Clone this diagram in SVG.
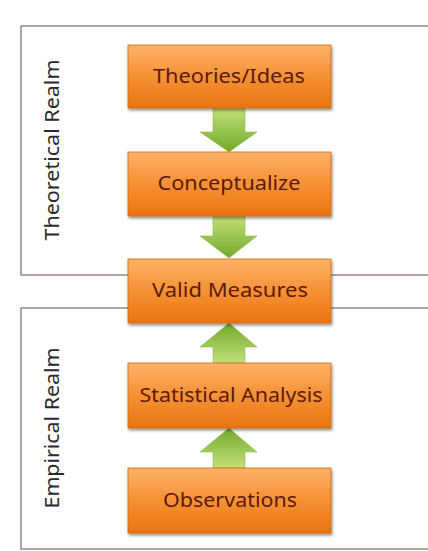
<svg xmlns="http://www.w3.org/2000/svg" width="428" height="551" viewBox="0 0 428 551">
  <defs>
    <linearGradient id="og" x1="0" y1="0" x2="0" y2="1">
      <stop offset="0" stop-color="#fbb26a"/>
      <stop offset="0.45" stop-color="#f79439"/>
      <stop offset="1" stop-color="#e8740f"/>
    </linearGradient>
    <linearGradient id="gg" x1="0" y1="0" x2="0" y2="1">
      <stop offset="0" stop-color="#c3e07a"/>
      <stop offset="1" stop-color="#72a82a"/>
    </linearGradient>
    <linearGradient id="ggu" x1="0" y1="1" x2="0" y2="0">
      <stop offset="0" stop-color="#c3e07a"/>
      <stop offset="1" stop-color="#72a82a"/>
    </linearGradient>
    <filter id="sh" x="-10%" y="-10%" width="120%" height="130%">
      <feGaussianBlur in="SourceAlpha" stdDeviation="1.5"/>
      <feOffset dx="1" dy="2" result="o"/>
      <feComponentTransfer><feFuncA type="linear" slope="0.45"/></feComponentTransfer>
      <feMerge><feMergeNode/><feMergeNode in="SourceGraphic"/></feMerge>
    </filter>
  </defs>
  <style>
    .realm { fill: #ffffff; stroke: #8a7474; stroke-width: 1.3; }
    .box { fill: url(#og); stroke: #d8690c; stroke-width: 0.8; filter: url(#sh); }
    .lbl { font-family: "Noto Sans", "DejaVu Sans", sans-serif; font-size: 20px; fill: #5a1a0c; text-anchor: middle; }
    .rlbl { font-family: "Noto Sans", "DejaVu Sans", sans-serif; font-size: 19px; fill: #2a2a2a; text-anchor: middle; }
    .down { fill: url(#gg); stroke: #8cbf44; stroke-width: 0.6; }
    .up { fill: url(#ggu); stroke: #8cbf44; stroke-width: 0.6; }
  </style>
  <rect width="428" height="551" fill="#ffffff"/>

  <g id="theoretical-realm">
    <rect class="realm" x="21" y="26" width="420" height="249"/>
    <text class="rlbl" transform="translate(59 150) rotate(-90)" textLength="181" lengthAdjust="spacingAndGlyphs">Theoretical Realm</text>
  </g>
  <g id="empirical-realm">
    <rect class="realm" x="21" y="308" width="420" height="241"/>
    <text class="rlbl" transform="translate(59 428) rotate(-90)" textLength="161" lengthAdjust="spacingAndGlyphs">Empirical Realm</text>
  </g>

  <g id="connectors">
    <polygon class="down" points="213,108 245,108 245,132 257,132 229,152 200,132 213,132"/>
    <polygon class="down" points="213,216 245,216 245,236 257,236 229,258 200,236 213,236"/>
    <polygon class="up" points="213,363 245,363 245,347 257,347 229,323 200,347 213,347"/>
    <polygon class="up" points="213,468 245,468 245,452 257,452 229,428 200,452 213,452"/>
  </g>

  <g id="theories-ideas">
    <rect class="box" x="128" y="45" width="203" height="63"/>
    <text class="lbl" x="229" y="83" textLength="152" lengthAdjust="spacingAndGlyphs">Theories/Ideas</text>
  </g>
  <g id="conceptualize">
    <rect class="box" x="128" y="152" width="203" height="64"/>
    <text class="lbl" x="229" y="190" textLength="143" lengthAdjust="spacingAndGlyphs">Conceptualize</text>
  </g>
  <g id="valid-measures">
    <rect class="box" x="128" y="259" width="203" height="64"/>
    <text class="lbl" x="230" y="297" textLength="156" lengthAdjust="spacingAndGlyphs">Valid Measures</text>
  </g>
  <g id="statistical-analysis">
    <rect class="box" x="128" y="363" width="203" height="65"/>
    <text class="lbl" x="231" y="402" textLength="183" lengthAdjust="spacingAndGlyphs">Statistical Analysis</text>
  </g>
  <g id="observations">
    <rect class="box" x="128" y="468" width="203" height="65"/>
    <text class="lbl" x="230" y="507" textLength="134" lengthAdjust="spacingAndGlyphs">Observations</text>
  </g>
</svg>
